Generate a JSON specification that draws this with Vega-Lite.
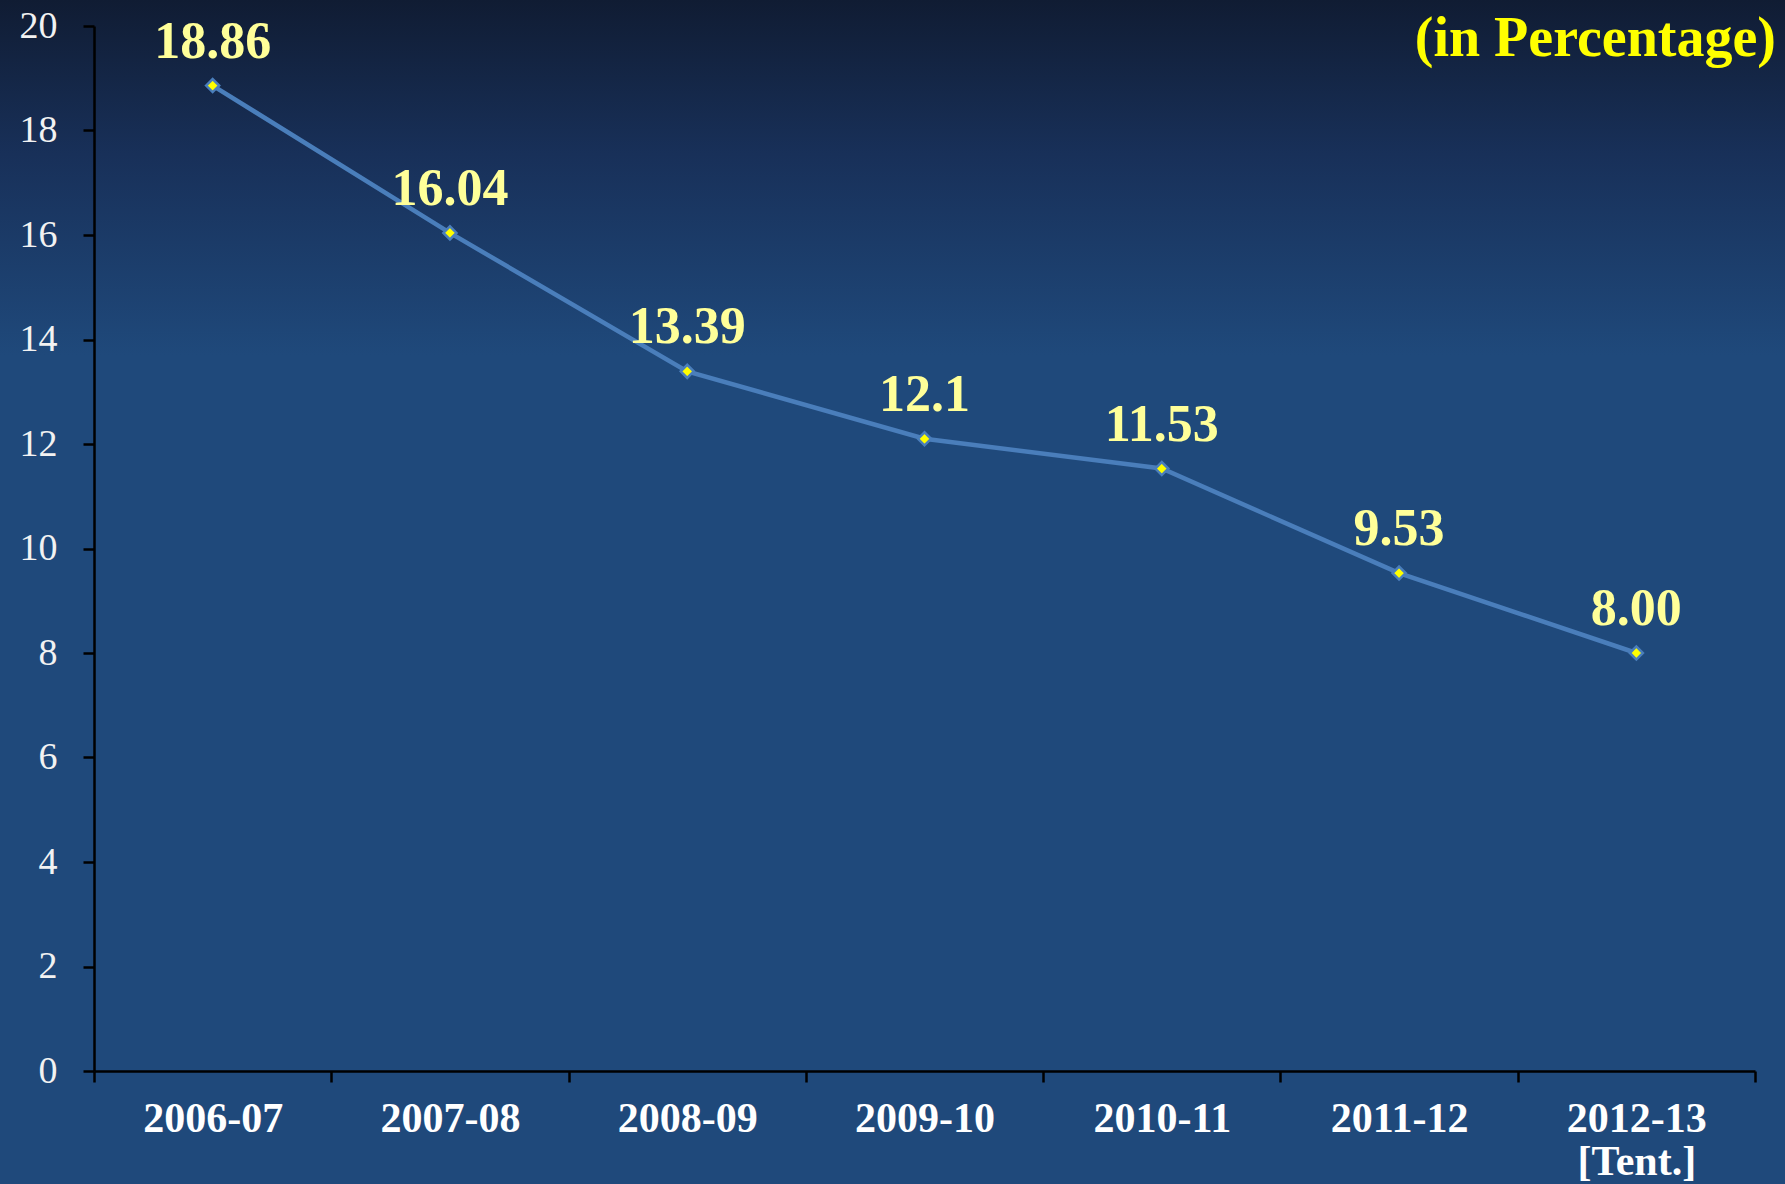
{
  "$schema": "https://vega.github.io/schema/vega-lite/v6.json",
  "width": 1785,
  "height": 1184,
  "autosize": {"type": "none"},
  "padding": 0,
  "background": "#1f497b",
  "config": {
    "view": {
      "stroke": null,
      "fill": {
        "gradient": "linear",
        "x1": 0, "y1": 0, "x2": 0, "y2": 1,
        "stops": [
          {"offset": 0, "color": "#101c33"},
          {"offset": 0.13, "color": "#183059"},
          {"offset": 0.3, "color": "#1f497b"},
          {"offset": 1, "color": "#1f497b"}
        ]
      }
    }
  },
  "title": {
    "text": "(in Percentage)",
    "orient": "top",
    "anchor": "end",
    "frame": "group",
    "offset": -57,
    "baseline": "alphabetic",
    "dx": -9,
    "dy": 55,
    "font": "Liberation Serif",
    "fontSize": 56,
    "fontWeight": "bold",
    "color": "#FFFF00"
  },
  "data": {
    "values": [
      {"year": "2006-07", "value": 18.86, "label": "18.86"},
      {"year": "2007-08", "value": 16.04, "label": "16.04"},
      {"year": "2008-09", "value": 13.39, "label": "13.39"},
      {"year": "2009-10", "value": 12.1, "label": "12.1"},
      {"year": "2010-11", "value": 11.53, "label": "11.53"},
      {"year": "2011-12", "value": 9.53, "label": "9.53"},
      {"year": "2012-13 [Tent.]", "value": 8.0, "label": "8.00"}
    ]
  },
  "encoding": {
    "x": {
      "field": "year",
      "type": "nominal",
      "sort": null,
      "scale": {"type": "band", "range": [94, 1755], "paddingInner": 0, "paddingOuter": 0},
      "axis": {
        "title": null,
        "offset": -113,
        "grid": false,
        "domainColor": "#000000",
        "domainWidth": 2.5,
        "tickColor": "#000000",
        "tickWidth": 2.5,
        "tickSize": 11,
        "tickBand": "extent",
        "labelAngle": 0,
        "labelFont": "Liberation Serif",
        "labelFontSize": 42,
        "labelFontWeight": "bold",
        "labelColor": "#ffffff",
        "labelPadding": 16,
        "labelLineHeight": 43,
        "labelExpr": "isString(datum.value) ? split(datum.value, ' ') : ''"
      }
    },
    "y": {
      "field": "value",
      "type": "quantitative",
      "scale": {"domain": [0, 20], "range": [1071, 26], "nice": false},
      "axis": {
        "title": null,
        "offset": -94,
        "grid": false,
        "values": [0, 2, 4, 6, 8, 10, 12, 14, 16, 18, 20],
        "domainColor": "#000000",
        "domainWidth": 2.5,
        "tickColor": "#000000",
        "tickWidth": 2.5,
        "tickSize": 11,
        "labelFont": "Liberation Serif",
        "labelFontSize": 38,
        "labelColor": "#f2f2f2",
        "labelPadding": 26
      }
    }
  },
  "layer": [
    {"mark": {"type": "line", "color": "#4a7ebb", "strokeWidth": 4.5}},
    {"mark": {"type": "point", "shape": "diamond", "size": 170, "filled": true, "fill": "#FFFF00", "stroke": "#4a7ebb", "strokeWidth": 2.5, "opacity": 1}},
    {
      "mark": {"type": "text", "dy": -28, "baseline": "alphabetic", "align": "center", "font": "Liberation Serif", "fontSize": 52, "fontWeight": "bold", "color": "#FFFF99"},
      "encoding": {"text": {"field": "label"}}
    }
  ]
}
